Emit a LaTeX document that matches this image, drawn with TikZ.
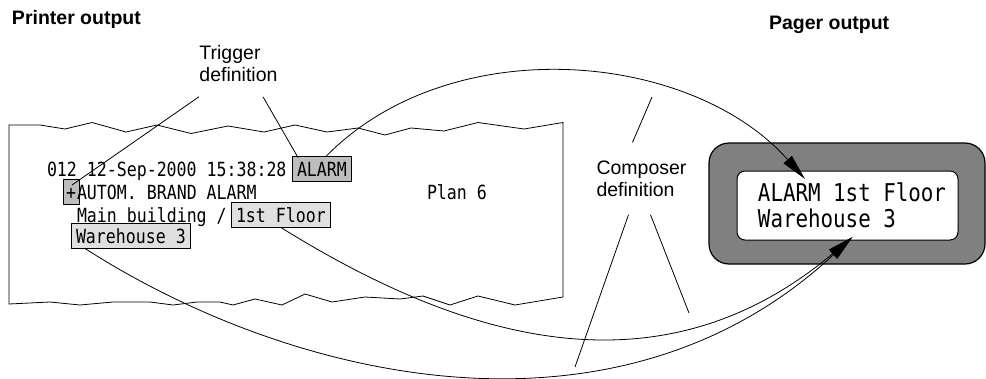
\documentclass[tikz,border=0pt]{standalone}
\usepackage{fontspec}
\setmainfont{Liberation Sans}
\newfontfamily\printfont[FakeStretch=0.85]{DejaVu Sans Mono}
\usetikzlibrary{arrows.meta}
\definecolor{hldark}{gray}{0.74}
\definecolor{hllight}{gray}{0.88}
\definecolor{pagergray}{gray}{0.5}
\begin{document}
\begin{tikzpicture}[x=1pt,y=-1pt,
  every node/.style={inner sep=0pt,outer sep=0pt},
  prt/.style={anchor=base west,font=\printfont\fontsize{19.5}{22}\selectfont},
  hlbox/.style={prt,draw,line width=0.8pt,text height=18pt,text depth=4pt,inner xsep=5pt,inner ysep=1.5pt},
  note/.style={align=left,font=\fontsize{19.5}{22}\selectfont},
  heading/.style={anchor=base west,font=\bfseries\fontsize{19.5}{22}\selectfont},
  conn/.style={line width=0.8pt},
  tip/.style={-{Triangle[length=26pt,width=11pt]}}]
  \useasboundingbox (0,0) rectangle (986,378);
  \node (prn) [heading] at (12,24) {Printer output};
  \node (pgr) [heading] at (769,29) {Pager output};
  \draw[line width=0.8pt] (9,125) -- (40,125) -- (65,129) -- (92,122.5) -- (126,132) -- (157,125) -- (191,133.5) -- (228,126) -- (264,132) -- (295,125) -- (327,132) -- (358,128) -- (385,135) -- (411,128) -- (444,131) -- (478,122.5) -- (524,129) -- (563,122.5)
    -- (563,297) -- (515,305) -- (478,296) -- (450,305) -- (423,296) -- (400,299) -- (365,297) -- (332,302) -- (305,294) -- (282,305) -- (255,299) -- (233,305) -- (220,302) -- (197,302) -- (173,305) -- (150,302) -- (113,302) -- (80,305) -- (50,302) -- (9,304) -- cycle;
  \node (l1) [prt] at (47,176) {012 12-Sep-2000 15:38:28};
  \node (alarm) [hlbox,fill=hldark] at (292,176) {ALARM\hspace{9pt}};
  \node (plus) [hlbox,fill=hldark,inner xsep=3pt] at (63,199) {+};
  \node (l2) [prt] at (77,199) {AUTOM. BRAND ALARM};
  \node (plan) [prt] at (427,199) {Plan 6};
  \node (wh) [hlbox,fill=hllight] at (71,243) {Warehouse 3\hspace{5pt}};
  \node (l3) [prt] at (77,222) {Main building /};
  \node (floor) [hlbox,fill=hllight] at (231,222) {1st Floor\hspace{4pt}};
  \node (trig) [note] at (238.5,63.6) {Trigger\\definition};
  \node (comp) [note] at (641.5,178.8) {Composer\\definition};
  \node (pager) [draw,line width=1.2pt,fill=pagergray,rounded corners=20pt,minimum width=276pt,minimum height=121pt] at (847,203.5) {};
  \node (screen) [draw,line width=1pt,fill=white,rounded corners=8pt,minimum width=221pt,minimum height=69pt,align=left,font=\printfont\fontsize{24.5}{26}\selectfont] at (847.5,205.5) {\hspace*{9pt}ALARM 1st Floor\\\hspace*{9pt}Warehouse 3};
  \coordinate (cup) at (652,97);
  \coordinate (cdl) at (575,367);
  \coordinate (cdr) at (689,313);
  \draw[conn] ([xshift=-39.5pt,yshift=-15pt]trig.south) -- ([xshift=1pt,yshift=7pt]plus.center);
  \draw[conn] ([xshift=24.5pt,yshift=-15pt]trig.south) -- ([xshift=6pt,yshift=-1pt]alarm.north west);
  \draw[conn] ([xshift=-9pt,yshift=18.5pt]comp.north) -- (cup);
  \draw[conn] ([xshift=-13pt,yshift=-18pt]comp.south) -- (cdl);
  \draw[conn] ([xshift=9pt,yshift=-18pt]comp.south) -- (cdr);
  \draw[conn,tip] ([xshift=-26pt]alarm.north east) .. controls (450,30) and (690,50) .. ([xshift=68pt,yshift=-8pt]screen.north west);
  \draw[conn,tip] (floor.south) .. controls (465,342) and (661,398) .. ([xshift=5pt,yshift=3pt]screen.south);
  \draw[conn,tip] ([xshift=14pt]wh.south west) .. controls (295,383) and (618,455) .. ([xshift=5pt,yshift=3pt]screen.south);
\end{tikzpicture}
\end{document}
